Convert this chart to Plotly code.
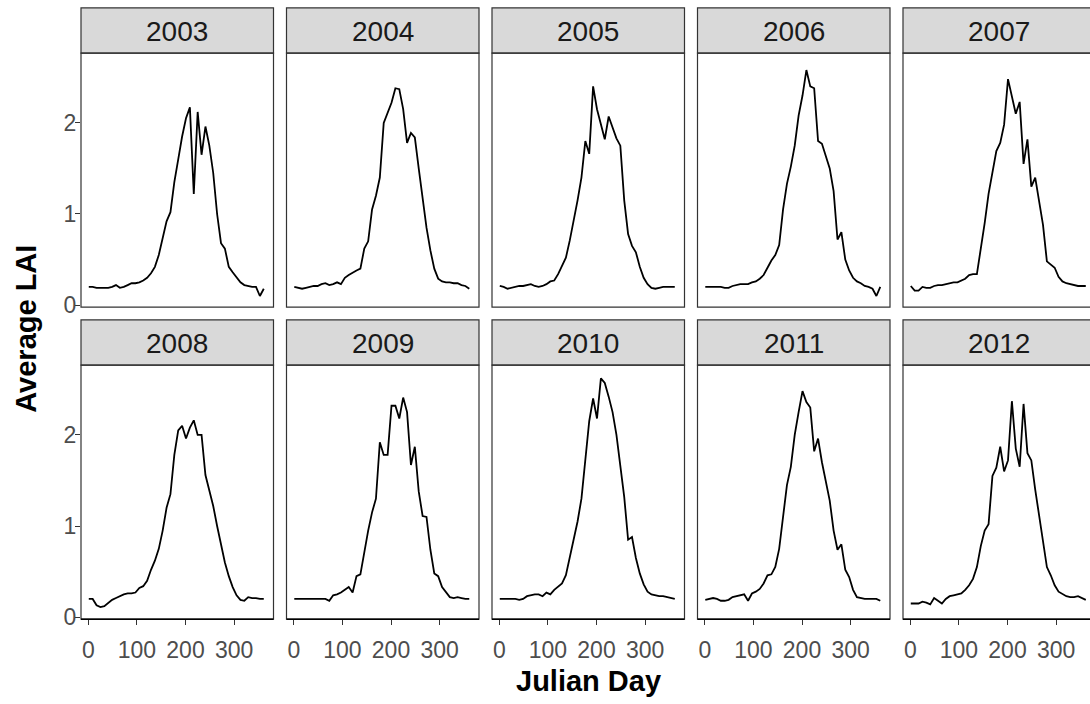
import plotly.graph_objects as go

days = [1, 9, 17, 25, 33, 41, 49, 57, 65, 73, 81, 89, 97, 105, 113, 121, 129, 137, 145, 153,
        161, 169, 177, 185, 193, 201, 209, 217, 225, 233, 241, 249, 257, 265, 273, 281, 289,
        297, 305, 313, 321, 329, 337, 345, 353, 361]

years = ["2003", "2004", "2005", "2006", "2007", "2008", "2009", "2010", "2011", "2012"]

lai_2003 = [0.20, 0.20, 0.19, 0.19, 0.19, 0.19, 0.20, 0.22, 0.19, 0.20, 0.22, 0.24, 0.24, 0.25,
            0.27, 0.30, 0.35, 0.42, 0.55, 0.72, 0.92, 1.02, 1.35, 1.60, 1.85, 2.05, 2.17, 1.22,
            2.12, 1.65, 1.96, 1.75, 1.45, 1.00, 0.68, 0.62, 0.42, 0.36, 0.30, 0.25, 0.22, 0.21,
            0.20, 0.20, 0.10, 0.18]
lai_2004 = [0.20, 0.19, 0.18, 0.19, 0.20, 0.21, 0.21, 0.23, 0.24, 0.22, 0.23, 0.25, 0.23, 0.30,
            0.33, 0.36, 0.38, 0.40, 0.62, 0.70, 1.05, 1.20, 1.40, 2.00, 2.12, 2.22, 2.38, 2.37,
            2.15, 1.78, 1.89, 1.84, 1.50, 1.15, 0.85, 0.60, 0.40, 0.29, 0.26, 0.25, 0.25, 0.24,
            0.24, 0.22, 0.21, 0.18]
lai_2005 = [0.21, 0.20, 0.18, 0.19, 0.20, 0.21, 0.21, 0.22, 0.23, 0.21, 0.20, 0.21, 0.23, 0.26,
            0.27, 0.34, 0.44, 0.52, 0.71, 0.92, 1.15, 1.40, 1.80, 1.66, 2.40, 2.15, 2.00, 1.82,
            2.07, 1.95, 1.83, 1.75, 1.15, 0.78, 0.65, 0.58, 0.42, 0.30, 0.23, 0.19, 0.18, 0.19,
            0.20, 0.20, 0.20, 0.20]
lai_2006 = [0.20, 0.20, 0.20, 0.20, 0.20, 0.19, 0.19, 0.21, 0.22, 0.23, 0.23, 0.23, 0.25, 0.26,
            0.29, 0.33, 0.41, 0.49, 0.55, 0.66, 1.05, 1.33, 1.52, 1.75, 2.08, 2.30, 2.58, 2.40,
            2.38, 1.80, 1.77, 1.62, 1.50, 1.25, 0.72, 0.80, 0.50, 0.38, 0.30, 0.26, 0.24, 0.21,
            0.20, 0.18, 0.10, 0.20]
lai_2007 = [0.21, 0.16, 0.16, 0.20, 0.19, 0.19, 0.21, 0.22, 0.22, 0.23, 0.24, 0.25, 0.25, 0.27,
            0.29, 0.33, 0.34, 0.34, 0.61, 0.90, 1.22, 1.44, 1.69, 1.78, 1.98, 2.48, 2.30, 2.10,
            2.23, 1.55, 1.82, 1.30, 1.40, 1.15, 0.88, 0.48, 0.44, 0.41, 0.31, 0.26, 0.24, 0.23,
            0.22, 0.21, 0.21, 0.21]
lai_2008 = [0.20, 0.20, 0.13, 0.11, 0.12, 0.16, 0.19, 0.21, 0.23, 0.25, 0.26, 0.26, 0.27, 0.32,
            0.34, 0.40, 0.52, 0.62, 0.75, 0.95, 1.20, 1.35, 1.78, 2.05, 2.10, 1.96, 2.08, 2.16,
            2.00, 2.00, 1.56, 1.40, 1.22, 1.00, 0.80, 0.60, 0.45, 0.33, 0.24, 0.19, 0.18, 0.22,
            0.21, 0.21, 0.20, 0.20]
lai_2009 = [0.20, 0.20, 0.20, 0.20, 0.20, 0.20, 0.20, 0.20, 0.20, 0.18, 0.24, 0.25, 0.27, 0.30,
            0.33, 0.27, 0.45, 0.47, 0.72, 0.95, 1.15, 1.30, 1.92, 1.78, 1.78, 2.32, 2.32, 2.18,
            2.41, 2.25, 1.67, 1.87, 1.38, 1.11, 1.10, 0.74, 0.48, 0.45, 0.33, 0.27, 0.22, 0.21,
            0.22, 0.21, 0.20, 0.20]
lai_2010 = [0.20, 0.20, 0.20, 0.20, 0.20, 0.19, 0.20, 0.23, 0.24, 0.25, 0.25, 0.23, 0.27, 0.25,
            0.30, 0.33, 0.37, 0.46, 0.65, 0.83, 1.05, 1.30, 1.75, 2.15, 2.40, 2.18, 2.62, 2.57,
            2.42, 2.25, 2.00, 1.65, 1.32, 0.85, 0.88, 0.65, 0.48, 0.36, 0.28, 0.25, 0.24, 0.23,
            0.23, 0.22, 0.21, 0.20]
lai_2011 = [0.19, 0.20, 0.21, 0.20, 0.18, 0.18, 0.19, 0.22, 0.23, 0.24, 0.25, 0.18, 0.26, 0.28,
            0.31, 0.37, 0.46, 0.47, 0.55, 0.75, 1.10, 1.45, 1.65, 2.00, 2.25, 2.48, 2.36, 2.30,
            1.82, 1.96, 1.70, 1.50, 1.28, 0.95, 0.74, 0.80, 0.52, 0.44, 0.30, 0.22, 0.21, 0.20,
            0.20, 0.20, 0.20, 0.18]
lai_2012 = [0.15, 0.15, 0.15, 0.17, 0.16, 0.14, 0.21, 0.18, 0.15, 0.20, 0.23, 0.24, 0.25, 0.26,
            0.30, 0.35, 0.42, 0.55, 0.78, 0.95, 1.02, 1.55, 1.64, 1.87, 1.60, 1.72, 2.37, 1.85,
            1.65, 2.34, 1.80, 1.72, 1.40, 1.10, 0.85, 0.55, 0.46, 0.35, 0.28, 0.25, 0.23, 0.22,
            0.22, 0.23, 0.21, 0.19]

series = [lai_2003, lai_2004, lai_2005, lai_2006, lai_2007,
          lai_2008, lai_2009, lai_2010, lai_2011, lai_2012]

x_ticks = [0, 100, 200, 300]
y_ticks = [0, 1, 2]

W, H = 1090, 704
col_left_px = [81, 286.5, 492, 697.5, 903]
panel_w_px = 192.5
x_lo = -15.0
px_per_unit = panel_w_px / 396.0
row_strip_top_px = [8, 325]
row_panel_top_px = [54, 371]
panel_h_px = 258
y_range = [-0.022, 2.765]

FONT = "Liberation Sans, Arial, sans-serif"
BORDER = "#333333"
TICK_SIZE = 23

fig = go.Figure()
layout = dict(
    width=W, height=H, margin=dict(l=0, r=0, t=0, b=0),
    paper_bgcolor="white", plot_bgcolor="white", showlegend=False,
    font=dict(family=FONT, color="#4D4D4D"),
)
shapes = []
annotations = []

for i, (yr, vals) in enumerate(zip(years, series)):
    r, c = divmod(i, 5)
    idx = i + 1
    xl = col_left_px[c]
    xr_full = xl + panel_w_px
    xr_vis = min(xr_full, W)
    pt = row_panel_top_px[r]
    pb = pt + panel_h_px
    st = row_strip_top_px[r]
    x_hi = x_lo + (xr_vis - xl) / px_per_unit

    fig.add_trace(go.Scatter(
        x=days, y=vals, mode="lines",
        line=dict(color="black", width=1.8),
        xaxis=f"x{idx}", yaxis=f"y{idx}", hoverinfo="x+y",
    ))

    xa = dict(
        domain=[xl / W, xr_vis / W], range=[x_lo, x_hi], anchor=f"y{idx}",
        showgrid=False, zeroline=False, showline=False,
        tickvals=x_ticks, ticks="outside" if r == 1 else "",
        ticklen=5, tickwidth=1, tickcolor=BORDER,
        showticklabels=(r == 1), ticklabelstandoff=5,
        tickfont=dict(size=TICK_SIZE, color="#4D4D4D", family=FONT),
    )
    ya = dict(
        domain=[1 - pb / H, 1 - pt / H], range=y_range, anchor=f"x{idx}",
        showgrid=False, zeroline=False, showline=False,
        tickvals=y_ticks, ticks="outside" if c == 0 else "",
        ticklen=5, tickwidth=1, tickcolor=BORDER,
        showticklabels=(c == 0), ticklabelstandoff=-6,
        tickfont=dict(size=TICK_SIZE, color="#4D4D4D", family=FONT),
    )
    layout[f"xaxis{idx}"] = xa
    layout[f"yaxis{idx}"] = ya

    # panel border
    shapes.append(dict(type="rect", xref="paper", yref="paper",
                       x0=xl / W, x1=xr_full / W, y0=1 - pb / H, y1=1 - pt / H,
                       line=dict(color=BORDER, width=1.2), fillcolor="rgba(0,0,0,0)",
                       layer="above"))
    if r == 1:
        shapes.append(dict(type="line", xref="paper", yref="paper",
                           x0=xl / W, x1=xr_full / W, y0=1 - pb / H, y1=1 - pb / H,
                           line=dict(color="black", width=1.5), layer="above"))
    # strip
    shapes.append(dict(type="rect", xref="paper", yref="paper",
                       x0=xl / W, x1=xr_full / W, y0=1 - pt / H, y1=1 - st / H,
                       line=dict(color=BORDER, width=1.2), fillcolor="#D9D9D9",
                       layer="below"))
    annotations.append(dict(
        text=yr, xref="paper", yref="paper",
        x=(xl + panel_w_px / 2) / W, y=1 - (st + pt + 2) / 2 / H,
        xanchor="center", yanchor="middle", showarrow=False,
        font=dict(size=28, color="#1A1A1A", family=FONT),
    ))

annotations.append(dict(
    text="<b>Julian Day</b>", xref="paper", yref="paper",
    x=588 / W, y=1 - 692 / H, xanchor="center", yanchor="middle", showarrow=False,
    font=dict(size=29, color="black", family=FONT),
))
annotations.append(dict(
    text="<b>Average LAI</b>", xref="paper", yref="paper",
    x=26 / W, y=1 - 334 / H, xanchor="center", yanchor="middle", showarrow=False,
    textangle=-90, font=dict(size=29, color="black", family=FONT),
))

layout["shapes"] = shapes
layout["annotations"] = annotations
fig.update_layout(**layout)
fig.write_html("out.html")
